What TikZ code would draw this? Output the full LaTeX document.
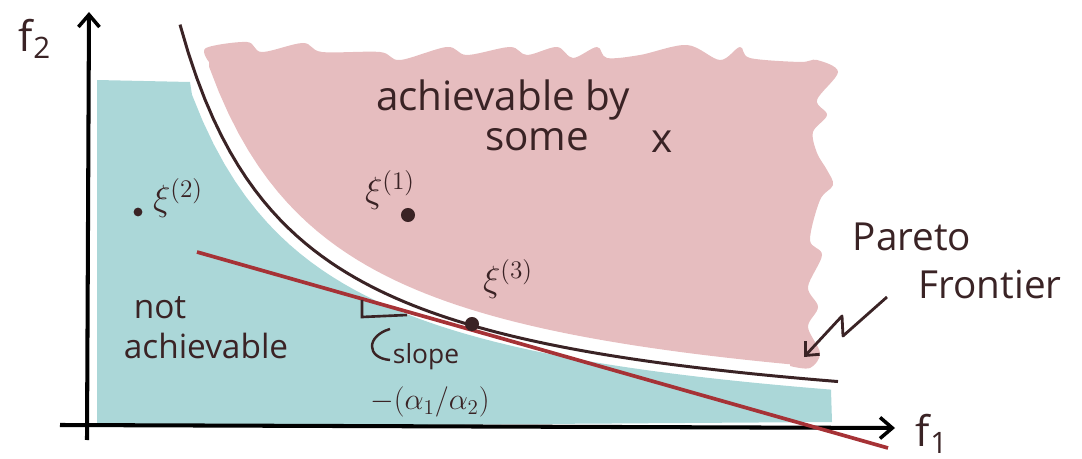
\documentclass[tikz,border=0pt]{standalone}
\usepackage{fontspec}
\setmainfont{Open Sans}
\usetikzlibrary{arrows.meta}
\definecolor{ink}{HTML}{3A2325}
\definecolor{achfill}{HTML}{E6BDBF}
\definecolor{notfill}{HTML}{ABD7D8}
\definecolor{tangent}{HTML}{A63236}
\tikzset{
  axis/.style={line width=2.3pt,black,-{Straight Barb[length=7pt,width=12pt,line width=2pt]}},
  frontier/.style={ink,line width=1.7pt},
  spot/.style={circle,fill=ink,inner sep=0pt,minimum size=#1},
  hand/.style={ink,inner sep=0pt,font=\fontsize{#1}{#1}\selectfont},
}
\begin{document}
\begin{tikzpicture}[x=0.02cm,y=-0.02cm]
  \useasboundingbox (0,0) rectangle (1082,459);

  \fill[achfill] plot[smooth,tension=0.55] coordinates {(209,62) (206,48) (247,42) (262,52) (303,43) (322,52) (380,52) (400,60) (447,47) (467,55) (510,47) (527,55) (557,47) (573,58) (597,47) (607,58) (640,55) (687,45) (720,60) (740,47) (750,58) (800,62) (817,60) (838,72) (817,100) (827,115) (813,132) (817,153) (827,170) (833,185) (820,200) (810,240) (822,255) (808,287) (818,307) (808,327) (820,353) (810,368) (790,366)}
    -- plot[domain=790:209,samples=60] (\x,{431.9-481.77/(0.01*\x-0.77)}) -- cycle;
  \fill[notfill] (97,80) -- (190,82) -- plot[domain=192:831,samples=60] (\x,{451.9-481.77/(0.01*\x-0.57)}) -- (832,422) -- (97,427) -- cycle;

  \coordinate (xo) at (60,425);
  \coordinate (xe) at (895,428);
  \coordinate (yo) at (87,440);
  \coordinate (ye) at (89,12);
  \draw[axis] (xo) -- (xe);
  \draw[axis] (yo) -- (ye);
  \node[hand=24] (f1) at (932,434) {f\textsubscript{1}};
  \node[hand=24] (f2) at (35,39) {f\textsubscript{2}};

  \draw[frontier] plot[domain=180:838,samples=80] (\x,{443.9-481.77/(0.01*\x-0.65)});

  \coordinate (t0) at (197,252);
  \coordinate (t1) at (888,448);
  \draw[tangent,line width=2.1pt] (t0) -- (t1);

  \node[spot=5pt] (xi2) at (138,212) {};
  \node[spot=8pt] (xi1) at (408,215) {};
  \node[spot=8pt] (xi3) at (472,324) {};
  \node[hand=22] (xi2lab) at (178,198) {$\xi^{(2)}$};
  \node[hand=22] (xi1lab) at (390,190) {$\xi^{(1)}$};
  \node[hand=22] (xi3lab) at (508,279) {$\xi^{(3)}$};

  \node[hand=23] (ach) at (503,100) {achievable by};
  \node[hand=23] (some) at (537,140) {some};
  \node[hand=23] (xvar) at (662,142) {x};
  \node[hand=19] (nota) at (160,308) {not};
  \node[hand=19] (notb) at (206,346) {achievable};

  \coordinate (ra0) at (362,300);
  \coordinate (ra1) at (362,317);
  \coordinate (ra2) at (407,315);
  \draw[ink,line width=1.5pt] (ra0) -- (ra1) -- (ra2);
  \coordinate (br0) at (390,329);
  \coordinate (br1) at (390,360);
  \draw[ink,line width=1.4pt] (br0) .. controls (366,336) and (366,358) .. (br1);
  \node[hand=15] (slope) at (426,357) {slope};
  \node[hand=18] (ratio) at (430,402) {$-(\alpha_1/\alpha_2)$};

  \node[hand=22] (pareto) at (912,237) {Pareto};
  \node[hand=22] (fron) at (990,285) {Frontier};
  \coordinate (bolt0) at (887,297);
  \coordinate (bolt1) at (843,336);
  \coordinate (bolt2) at (842,316);
  \coordinate (pf) at (804,357);
  \draw[ink,line width=1.6pt,line join=round,-{Straight Barb[length=6pt,width=11pt]}] (bolt0) -- (bolt1) -- (bolt2) -- (pf);
\end{tikzpicture}
\end{document}
